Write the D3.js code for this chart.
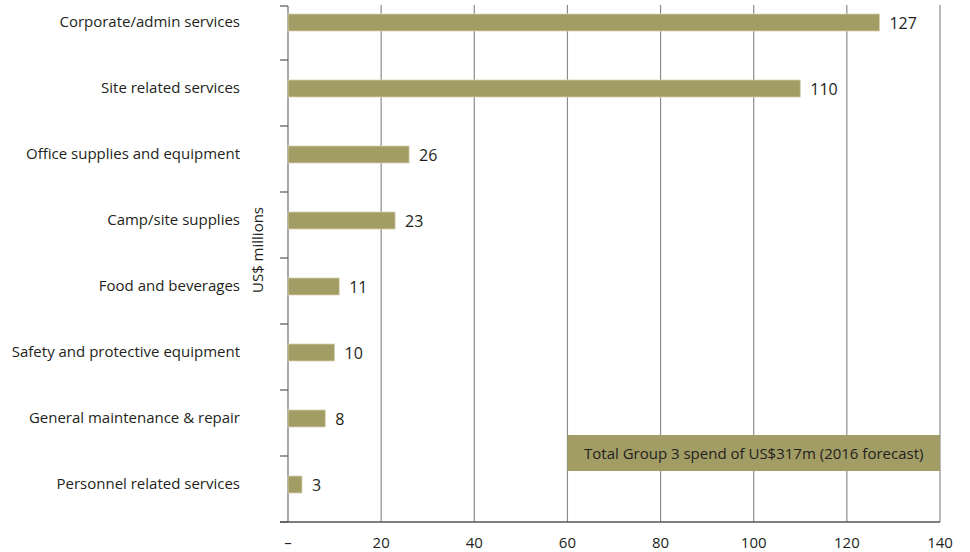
<!DOCTYPE html>
<html>
<head>
<meta charset="utf-8">
<script src="https://cdn.jsdelivr.net/npm/d3@7"></script>
<style>
  body { margin: 0; background: #fff; }
  text { font-family: "Open Sans", Lato, sans-serif; fill: #231f20; }
</style>
</head>
<body>
<div id="chart"></div>
<script>
const categories = [
  "Corporate/admin services",
  "Site related services",
  "Office supplies and equipment",
  "Camp/site supplies",
  "Food and beverages",
  "Safety and protective equipment",
  "General maintenance & repair",
  "Personnel related services"
];
const values = [127, 110, 26, 23, 11, 10, 8, 3];
const xTicks = [0, 20, 40, 60, 80, 100, 120, 140];
const note = { from: 60, to: 140, text: "Total Group 3 spend of US$317m (2016 forecast)" };

const width = 970, height = 552;
const x0 = 288, x1 = 940, yTop = 6, yBottom = 522;
const barColor = "#a29c65";

const svg = d3.select("#chart").append("svg")
  .attr("width", width).attr("height", height);

const x = d3.scaleLinear().domain([0, 140]).range([x0, x1]);
const y = d3.scaleBand().domain(categories)
  .range([yBottom - 66 * categories.length, yBottom]);

// gridlines
svg.append("g").selectAll("line")
  .data(xTicks.filter(d => d > 0)).enter()
  .append("line")
    .attr("x1", d => x(d)).attr("x2", d => x(d))
    .attr("y1", yTop - 1).attr("y2", yBottom)
    .attr("stroke", "#8c8c8c").attr("stroke-width", 1.2);

// y axis line and ticks
const yAxis = svg.append("g");
yAxis.append("line")
  .attr("x1", x0).attr("x2", x0).attr("y1", yTop).attr("y2", yBottom)
  .attr("stroke", "#6d6d6d").attr("stroke-width", 1.2);
const bounds = categories.map(c => Math.max(y(c), yTop)).concat([yBottom]);
yAxis.selectAll(".tick").data(bounds).enter()
  .append("line")
    .attr("x1", x0 - 8).attr("x2", x0)
    .attr("y1", d => d).attr("y2", d => d)
    .attr("stroke", "#555").attr("stroke-width", 1.2);

// x axis line
svg.append("line")
  .attr("x1", x0 - 8).attr("x2", x1).attr("y1", yBottom).attr("y2", yBottom)
  .attr("stroke", "#555").attr("stroke-width", 1.5);

svg.append("g").selectAll("text")
  .data(xTicks).enter()
  .append("text")
    .attr("x", d => x(d))
    .attr("y", 548)
    .attr("text-anchor", "middle")
    .style("font-size", "15px")
    .text(d => d === 0 ? "–" : d);

// bars
svg.append("g").selectAll("rect")
  .data(values).enter()
  .append("rect")
    .attr("x", x(0))
    .attr("y", (d, i) => y(categories[i]) + 20)
    .attr("width", d => x(d) - x(0))
    .attr("height", 17)
    .attr("fill", barColor)
    .attr("stroke", "#d6d2b0").attr("stroke-width", 0.8);

// value labels
svg.append("g").selectAll("text")
  .data(values).enter()
  .append("text")
    .attr("x", d => x(d) + 10)
    .attr("y", (d, i) => y(categories[i]) + 35)
    .style("font-size", "16px")
    .text(d => d);

// category labels
svg.append("g").selectAll("text")
  .data(categories).enter()
  .append("text")
    .attr("x", 240)
    .attr("y", d => y(d) + 33)
    .attr("text-anchor", "end")
    .style("font-size", "15px")
    .text(d => d);

// axis title
svg.append("text")
  .attr("transform", "translate(263,250) rotate(-90)")
  .attr("text-anchor", "middle")
  .style("font-size", "15px")
  .text("US$ millions");

// note box
svg.append("rect")
  .attr("x", x(note.from)).attr("y", 435)
  .attr("width", x(note.to) - x(note.from)).attr("height", 36)
  .attr("fill", barColor);
svg.append("text")
  .attr("x", (x(note.from) + x(note.to)) / 2)
  .attr("y", 459)
  .attr("text-anchor", "middle")
  .style("font-size", "15px")
  .text(note.text);
</script>
</body>
</html>
